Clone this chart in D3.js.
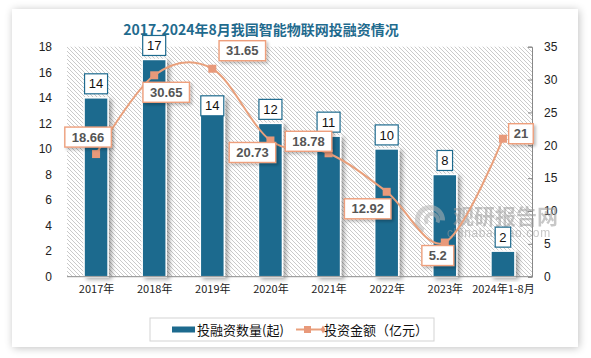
<!DOCTYPE html>
<html><head><meta charset="utf-8">
<script src="https://cdn.jsdelivr.net/npm/d3@7"></script>
<style>
html,body{margin:0;padding:0;background:#fff;}
svg{display:block;}
</style></head>
<body>
<svg id="c" width="591" height="358"></svg>
<script>
const categories = ["2017年","2018年","2019年","2020年","2021年","2022年","2023年","2024年1-8月"];
const dealCounts = [14,17,14,12,11,10,8,2];
const amounts = [18.66,30.65,31.65,20.73,18.78,12.92,5.2,21];
const leftTicks = [0,2,4,6,8,10,12,14,16,18];
const rightTicks = [0,5,10,15,20,25,30,35];
const titleText = "2017-2024年8月我国智能物联网投融资情况";
const seriesNames = ["投融资数量(起)","投资金额（亿元）"];

// label layout (offsets of label box centers relative to marker)
const lineLabelOffsets = [[-8,-17],[12,17],[30,-18],[-18,12],[-20,-12],[-19,17],[-7,13],[18,-5]];

const svg = d3.select("#c");
const defs = svg.append("defs");

// card shadow
const f1 = defs.append("filter").attr("id","cardShadow").attr("x","-10%").attr("y","-10%").attr("width","120%").attr("height","120%");
f1.append("feGaussianBlur").attr("in","SourceAlpha").attr("stdDeviation",4);
f1.append("feOffset").attr("dx",1).attr("dy",1).attr("result","b");
f1.append("feComponentTransfer").append("feFuncA").attr("type","linear").attr("slope",0.25);
const m1 = f1.append("feMerge"); m1.append("feMergeNode"); m1.append("feMergeNode").attr("in","SourceGraphic");

// bar shadow
const f2 = defs.append("filter").attr("id","barShadow").attr("x","-30%").attr("y","-10%").attr("width","170%").attr("height","130%");
f2.append("feGaussianBlur").attr("in","SourceAlpha").attr("stdDeviation",2);
f2.append("feOffset").attr("dx",3).attr("dy",2).attr("result","b");
f2.append("feComponentTransfer").append("feFuncA").attr("type","linear").attr("slope",0.35);
const m2 = f2.append("feMerge"); m2.append("feMergeNode"); m2.append("feMergeNode").attr("in","SourceGraphic");

// label shadow
const f3 = defs.append("filter").attr("id","lblShadow").attr("x","-20%").attr("y","-20%").attr("width","150%").attr("height","160%");
f3.append("feGaussianBlur").attr("in","SourceAlpha").attr("stdDeviation",1.5);
f3.append("feOffset").attr("dx",1.5).attr("dy",1.5).attr("result","b");
f3.append("feComponentTransfer").append("feFuncA").attr("type","linear").attr("slope",0.25);
const m3 = f3.append("feMerge"); m3.append("feMergeNode"); m3.append("feMergeNode").attr("in","SourceGraphic");

// hatch
const pat = defs.append("pattern").attr("id","hatch").attr("patternUnits","userSpaceOnUse")
  .attr("width",4).attr("height",4);
pat.append("rect").attr("width",4).attr("height",4).attr("fill","#fff");
pat.append("path").attr("d","M-1,-1 L5,5 M-1,3 L1,5 M3,-1 L5,1").attr("stroke","#c4c4c4").attr("stroke-width",0.9);

// card
svg.append("rect").attr("x",12).attr("y",9).attr("width",566).attr("height",338)
  .attr("fill","#fff").attr("filter","url(#cardShadow)");

const x0 = 67, x1 = 532, yTop = 46.7, yBot = 276.7;
const x = d3.scalePoint().domain(categories).range([x0,x1]).padding(0.5);
const barW = 24;
const yL = d3.scaleLinear().domain([0,18]).range([yBot,yTop]);
const yR = d3.scaleLinear().domain([0,35]).range([yBot,yTop]);

// plot background
svg.append("rect").attr("x",x0).attr("y",yTop).attr("width",x1-x0).attr("height",yBot-yTop).attr("fill","url(#hatch)");

// left axis (labels only)
const gL = svg.append("g").attr("transform",`translate(${x0},0)`)
  .call(d3.axisLeft(yL).tickValues(leftTicks).tickSize(0).tickPadding(15));
gL.select(".domain").remove();
gL.selectAll("text").attr("font-family","'Liberation Sans',Arial,sans-serif").attr("font-size",12).attr("fill","#222");

// right axis
const gR = svg.append("g").attr("transform",`translate(${x1},0)`)
  .call(d3.axisRight(yR).tickValues(rightTicks).tickSizeInner(-4).tickSizeOuter(-4).tickPadding(12));
gR.select(".domain").attr("stroke","#888");
gR.selectAll(".tick line").attr("stroke","#888");
gR.selectAll("text").attr("font-family","'Liberation Sans',Arial,sans-serif").attr("font-size",12).attr("fill","#222");

// bars
svg.append("g").selectAll("rect").data(dealCounts).join("rect")
  .attr("x",(d,i)=>x(categories[i])-barW/2)
  .attr("y",d=>yL(d))
  .attr("width",barW)
  .attr("height",d=>yBot-yL(d))
  .attr("fill","#1d6a8e").attr("stroke","#fff").attr("stroke-width",1.5)
  .attr("filter","url(#barShadow)");

// bottom axis
const gB = svg.append("g").attr("transform",`translate(0,${yBot})`)
  .call(d3.axisBottom(x).tickSize(0).tickPadding(9));
gB.select(".domain").attr("stroke","#8c8c8c").attr("d",`M${x0},0H${x1}`);
gB.selectAll("text").attr("font-family","'Noto Sans CJK SC','Liberation Sans',sans-serif").attr("font-size",11).attr("fill","#222");

// watermark
const wm = svg.append("g").attr("opacity",0.55);
wm.append("path").attr("d",d3.arc()({innerRadius:10,outerRadius:15,startAngle:-2.6,endAngle:1.6}))
  .attr("transform","translate(430,220)").attr("fill","#b5b5b5");
wm.append("path").attr("d",d3.arc()({innerRadius:4,outerRadius:8,startAngle:-2.2,endAngle:2.0}))
  .attr("transform","translate(432,220)").attr("fill","#b5b5b5");
wm.append("text").attr("x",453).attr("y",224).attr("font-family","'Noto Sans CJK SC',sans-serif")
  .attr("font-weight","bold").attr("font-size",21).attr("fill","#9a9a9a").text("观研报告网");
wm.append("text").attr("x",447).attr("y",237).attr("font-family","'Liberation Sans',Arial,sans-serif")
  .attr("font-size",12).attr("fill","#9a9a9a").attr("letter-spacing",0.6).text("chinabaogao.com");

// line
const lineColor = "#e9a07c";
const line = d3.line().x((d,i)=>x(categories[i])).y(d=>yR(d)).curve(d3.curveCardinal.tension(0));
svg.append("path").datum(amounts).attr("d",line).attr("fill","none").attr("stroke",lineColor).attr("stroke-width",2);
svg.append("g").selectAll("rect").data(amounts).join("rect")
  .attr("x",(d,i)=>x(categories[i])-4).attr("y",d=>yR(d)-4).attr("width",8).attr("height",8)
  .attr("fill","#e8997a");

// bar labels
const numFont = "'Liberation Sans',Arial,sans-serif";
const bl = svg.append("g").selectAll("g").data(dealCounts).join("g")
  .attr("transform",(d,i)=>{
    const cx = x(categories[i]);
    let cy = yL(d)-14;
    if (i===2) cy = yL(d)+8; // 2019 label sits at bar top
    return `translate(${cx},${cy})`;
  });
bl.append("rect").attr("x",d=>-(String(d).length*7.5+8)/2).attr("y",-10)
  .attr("width",d=>String(d).length*7.5+8).attr("height",20)
  .attr("fill","#fff").attr("stroke","#1d6a8e").attr("stroke-width",1.2);
bl.append("text").attr("text-anchor","middle").attr("dy","0.36em")
  .attr("font-family",numFont).attr("font-size",13).attr("fill","#111").text(d=>d);

// line labels
const ll = svg.append("g").selectAll("g").data(amounts).join("g")
  .attr("transform",(d,i)=>`translate(${x(categories[i])+lineLabelOffsets[i][0]},${yR(d)+lineLabelOffsets[i][1]})`);
ll.append("rect").attr("x",d=>-(String(d).length*7.3+10)/2).attr("y",-10)
  .attr("width",d=>String(d).length*7.3+10).attr("height",20)
  .attr("fill","#fff").attr("stroke","#ee9f7c").attr("stroke-width",1.4).attr("filter","url(#lblShadow)");
ll.append("text").attr("text-anchor","middle").attr("dy","0.36em")
  .attr("font-family",numFont).attr("font-weight","bold").attr("font-size",13).attr("fill","#555").text(d=>d);

// title
svg.append("text").attr("x",261).attr("y",35).attr("text-anchor","middle")
  .attr("font-family","'Noto Sans CJK SC',sans-serif").attr("font-weight","bold").attr("font-size",14)
  .attr("fill","#1f6b8e").text(titleText);

// legend
const lg = svg.append("g");
lg.append("rect").attr("x",150).attr("y",318).attr("width",284).attr("height",23)
  .attr("fill","#fff").attr("stroke","#d3d3d3").attr("stroke-width",1);
lg.append("rect").attr("x",172).attr("y",326.5).attr("width",23).attr("height",6).attr("fill","#1d6a8e");
lg.append("text").attr("x",197).attr("y",334.5).attr("font-family","'Noto Sans CJK SC',sans-serif")
  .attr("font-size",13).attr("fill","#111").text(seriesNames[0]);
lg.append("line").attr("x1",296).attr("x2",323).attr("y1",329.5).attr("y2",329.5).attr("stroke",lineColor).attr("stroke-width",2);
lg.append("rect").attr("x",304).attr("y",326).attr("width",7).attr("height",7).attr("fill","#e8997a");
lg.append("path").attr("d",d3.symbol(d3.symbolDiamond,18)()).attr("transform","translate(323,329.5)").attr("fill","#e8997a");
lg.append("text").attr("x",324).attr("y",334.5).attr("font-family","'Noto Sans CJK SC',sans-serif")
  .attr("font-size",13).attr("fill","#111").text(seriesNames[1]);
</script>
</body></html>
